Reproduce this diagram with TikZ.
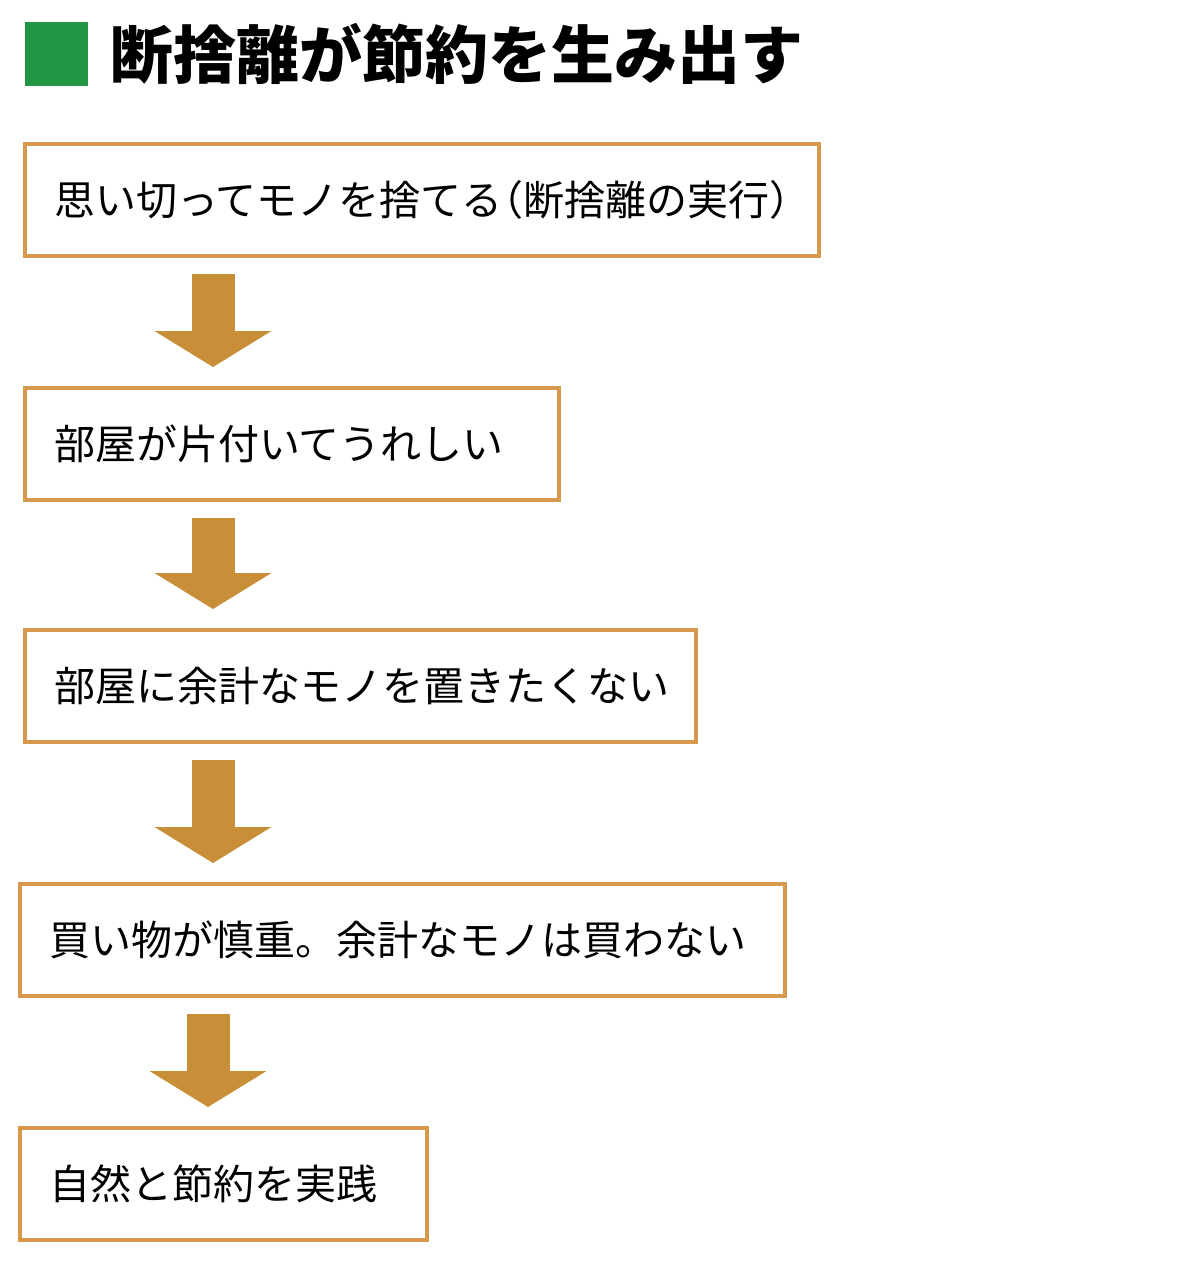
\documentclass[tikz,border=0pt]{standalone}
\usepackage{fontspec}
\newfontfamily\jpfont{Noto Sans CJK JP}
\definecolor{dsgreen}{RGB}{35,150,70}
\definecolor{dsframe}{RGB}{214,152,74}
\definecolor{dsarrow}{RGB}{201,142,56}
\usetikzlibrary{arrows.meta,calc}

\begin{document}
\begin{tikzpicture}[
  x=1pt,y=-1pt,
  every node/.style={font=\jpfont},
  stepbox/.style={draw=dsframe,line width=4pt,anchor=north west,minimum height=112pt,
                  inner xsep=29pt,inner ysep=0pt,align=left,
                  font=\jpfont\fontsize{41pt}{44pt}\selectfont},
  flowarrow/.style={dsarrow,line width=43pt,shorten <=16pt,shorten >=19pt,
                    -{Triangle[width=117pt,length=36pt,line width=0pt]}},
]
  \useasboundingbox (0,0) rectangle (1200,1266);

  % Heading
  \node[fill=dsgreen,minimum width=63pt,minimum height=64pt,inner sep=0pt,anchor=north west]
    (mark) at (25,22) {};
  \node[anchor=west,inner sep=0pt,font=\jpfont\bfseries\fontsize{63pt}{66pt}\selectfont]
    (title) at (110,54) {断捨離が節約を生み出す};

  % Flow steps
  \node[stepbox,text width=736pt] (s1) at (23,142)
    {思い切ってモノを捨てる\kern-.5em（断捨離の実行）\kern-.5em};
  \node[stepbox,text width=476pt] (s2) at (23,386)
    {部屋が片付いてうれしい};
  \node[stepbox,text width=613pt] (s3) at (23,628)
    {部屋に余計なモノを置きたくない};
  \node[stepbox,text width=707pt] (s4) at (18,882)
    {買い物が慎重。余計なモノは買わない};
  \node[stepbox,text width=349pt] (s5) at (18,1126)
    {自然と節約を実践};

  % Arrows between steps
  \coordinate (axis) at (213,0);
  \coordinate (axisb) at (208,0);
  \draw[flowarrow] (s1.south -| axis) -- (s2.north -| axis);
  \draw[flowarrow] (s2.south -| axis) -- (s3.north -| axis);
  \draw[flowarrow] (s3.south -| axis) -- (s4.north -| axis);
  \draw[flowarrow] (s4.south -| axisb) -- (s5.north -| axisb);
\end{tikzpicture}
\end{document}
